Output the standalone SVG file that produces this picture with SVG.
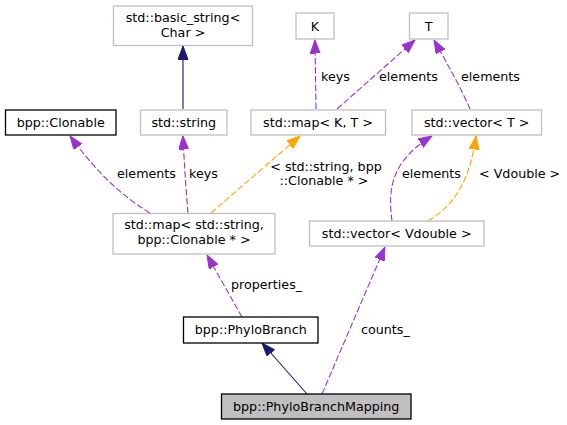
<svg xmlns="http://www.w3.org/2000/svg" width="567" height="425" viewBox="0 0 567 425">
<style>
text{font-family:"DejaVu Sans","Liberation Sans",sans-serif;font-size:12.7px;fill:#000}
.n text{text-anchor:middle}
.ext{fill:#fff;stroke:#bfbfbf;stroke-width:1.3}
.blk{fill:#fff;stroke:#000;stroke-width:1.3}
.cur{fill:#bfbfbf;stroke:#000;stroke-width:1.3}
.e{fill:none;stroke-width:1.1}
.nav{stroke:#191970;marker-end:url(#an)}
.pur{stroke:#9a32cd;stroke-dasharray:6.4,2.5;marker-end:url(#ap)}
.org{stroke:#ffa500;stroke-dasharray:6.4,2.5;marker-end:url(#ao)}
</style>
<defs>
<marker id="an" markerUnits="userSpaceOnUse" markerWidth="14" markerHeight="11" refX="13.5" refY="5" orient="auto"><path d="M0,0 L13.5,5 L0,10 z" fill="#191970" stroke="#191970"/></marker>
<marker id="ap" markerUnits="userSpaceOnUse" markerWidth="14" markerHeight="11" refX="13.5" refY="5" orient="auto"><path d="M0,0 L13.5,5 L0,10 z" fill="#9a32cd" stroke="#9a32cd"/></marker>
<marker id="ao" markerUnits="userSpaceOnUse" markerWidth="14" markerHeight="11" refX="13.5" refY="5" orient="auto"><path d="M0,0 L13.5,5 L0,10 z" fill="#ffa500" stroke="#ffa500"/></marker>
</defs>
<rect width="567" height="425" fill="#fff"/>
<g id="edges">
<path class="e nav" d="M183,109 L183,46"/>
<path class="e pur" d="M150,213 C120,195 95,170 70,136"/>
<text x="117" y="177.5">elements</text>
<path class="e pur" d="M188,213 C186,190 184,160 183,136"/>
<text x="189" y="177.5">keys</text>
<path class="e org" d="M211,213 L300,136"/>
<text x="326" y="170.5" text-anchor="middle">&lt; std::string, bpp</text>
<text x="324" y="184.5" text-anchor="middle">::Clonable * &gt;</text>
<path class="e pur" d="M316,109 L315,40"/>
<text x="321" y="81">keys</text>
<path class="e pur" d="M337,109 L415,40"/>
<text x="379" y="81">elements</text>
<path class="e pur" d="M470,109 C462,90 448,65 434,40"/>
<text x="461" y="81">elements</text>
<path class="e pur" d="M392,221 C388,190 390,162 432,136"/>
<text x="402" y="177.5">elements</text>
<path class="e org" d="M428,221 C455,205 470,180 476,136"/>
<text x="479" y="177.5">&lt; Vdouble &gt;</text>
<path class="e pur" d="M242,317 L207,255"/>
<text x="231" y="289">properties_</text>
<path class="e nav" d="M307,394 L262,343"/>
<path class="e pur" d="M322,394 L385,247"/>
<text x="361" y="334">counts_</text>
</g>
<g id="n_basic_string" class="n"><rect class="ext" x="113.5" y="6" width="139" height="39.5"/><text x="183" y="21.7">std::basic_string&lt;</text><text x="183" y="36.7">Char &gt;</text></g>
<g id="n_clonable" class="n"><rect class="blk" x="5.5" y="110" width="110.5" height="25"/><text x="60.7" y="126.7">bpp::Clonable</text></g>
<g id="n_string" class="n"><rect class="ext" x="140.5" y="110" width="86.5" height="25"/><text x="183.7" y="126.7">std::string</text></g>
<g id="n_mapKT" class="n"><rect class="ext" x="251" y="110" width="134.5" height="25"/><text x="318" y="126.7">std::map&lt; K, T &gt;</text></g>
<g id="n_K" class="n"><rect class="ext" x="296" y="13" width="38" height="26"/><text x="315" y="30.5">K</text></g>
<g id="n_T" class="n"><rect class="ext" x="409.5" y="13" width="38.5" height="26"/><text x="428.7" y="30.5">T</text></g>
<g id="n_vectorT" class="n"><rect class="ext" x="412" y="110" width="129.5" height="25"/><text x="476.7" y="126.7">std::vector&lt; T &gt;</text></g>
<g id="n_map_string_clonable" class="n"><rect class="ext" x="113" y="213.5" width="162" height="40.5"/><text x="194" y="229">std::map&lt; std::string,</text><text x="194" y="243.5">bpp::Clonable * &gt;</text></g>
<g id="n_vector_vdouble" class="n"><rect class="ext" x="309.5" y="221" width="174.5" height="25"/><text x="396.7" y="237.7">std::vector&lt; Vdouble &gt;</text></g>
<g id="n_phylobranch" class="n"><rect class="blk" x="183.5" y="317" width="134.5" height="26"/><text x="250.7" y="334">bpp::PhyloBranch</text></g>
<g id="n_phylobranchmapping" class="n"><rect class="cur" x="221.5" y="394" width="189.5" height="25"/><text x="316.2" y="410.7">bpp::PhyloBranchMapping</text></g>
</svg>
